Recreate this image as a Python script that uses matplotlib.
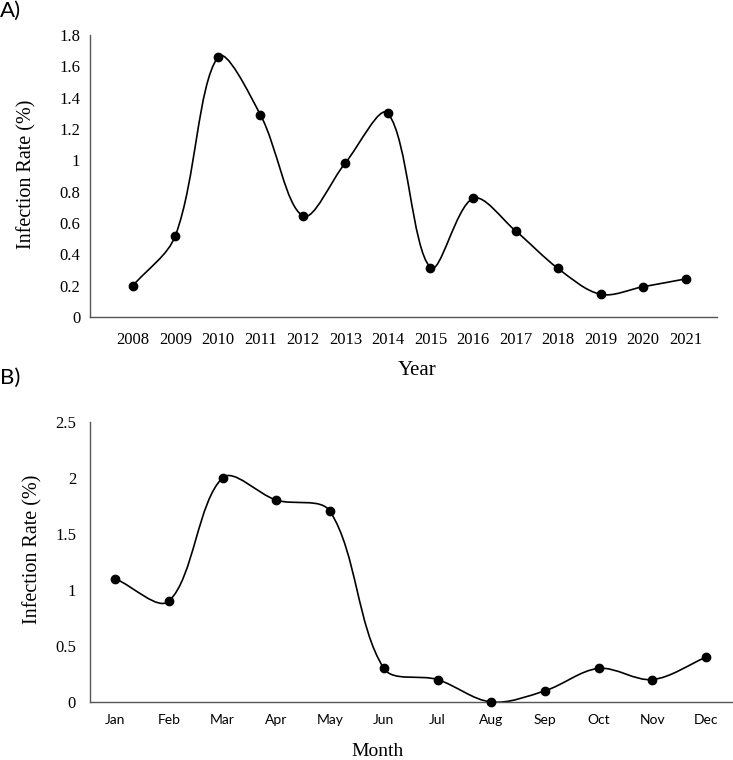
import matplotlib
matplotlib.use("Agg")
import matplotlib.pyplot as plt
from matplotlib.path import Path
from matplotlib.patches import PathPatch
import numpy as np

years = ["2008", "2009", "2010", "2011", "2012", "2013", "2014",
         "2015", "2016", "2017", "2018", "2019", "2020", "2021"]
year_rate = [0.20, 0.52, 1.66, 1.29, 0.645, 0.985, 1.30,
             0.315, 0.757, 0.55, 0.31, 0.145, 0.193, 0.243]
year_ticks = [0, 0.2, 0.4, 0.6, 0.8, 1, 1.2, 1.4, 1.6, 1.8]
year_tick_labels = ["0", "0.2", "0.4", "0.6", "0.8", "1", "1.2", "1.4", "1.6", "1.8"]

months = ["Jan", "Feb", "Mar", "Apr", "May", "Jun",
          "Jul", "Aug", "Sep", "Oct", "Nov", "Dec"]
month_rate = [1.1, 0.9, 2.0, 1.8, 1.7, 0.3, 0.2, 0.0, 0.1, 0.3, 0.2, 0.4]
month_ticks = [0, 0.5, 1, 1.5, 2, 2.5]
month_tick_labels = ["0", "0.5", "1", "1.5", "2", "2.5"]

SERIF = "Liberation Serif"
SANS = "Lato"
AXCOL = "#555555"
W, H = 733, 760


def smooth_path(ax, x, y):
    """Excel-like smoothed line: cubic Bezier with control points scaled by
    the relative segment lengths measured in display space."""
    x = np.asarray(x, float)
    y = np.asarray(y, float)
    pts = np.column_stack([x, y])
    disp = ax.transData.transform(pts)
    n = len(x)
    verts = [tuple(pts[0])]
    codes = [Path.MOVETO]

    def d(a, b):
        return np.hypot(*(disp[a] - disp[b]))

    for i in range(n - 1):
        i0, i1, i2, i3 = max(i - 1, 0), i, i + 1, min(i + 2, n - 1)
        d01, d12, d23 = d(i0, i1), d(i1, i2), d(i2, i3)
        f1 = d12 / (d01 + d12) / 3.0 if (d01 + d12) > 0 else 0
        f2 = d12 / (d12 + d23) / 3.0 if (d12 + d23) > 0 else 0
        c1 = pts[i1] + (pts[i2] - pts[i0]) * f1
        c2 = pts[i2] - (pts[i3] - pts[i1]) * f2
        verts += [tuple(c1), tuple(c2), tuple(pts[i2])]
        codes += [Path.CURVE4] * 3
    return Path(verts, codes)


def style_axes(ax):
    for s in ["top", "right"]:
        ax.spines[s].set_visible(False)
    for s in ["left", "bottom"]:
        ax.spines[s].set_color(AXCOL)
        ax.spines[s].set_linewidth(1.0)
    ax.tick_params(axis="both", length=0)


fig = plt.figure(figsize=(W / 100, H / 100), dpi=100)

# ---- Panel A ----
ax1 = fig.add_axes([90 / W, 1 - 317 / H, (717 - 90) / W, (317 - 35) / H])
xa = np.arange(len(years))
ax1.set_xlim(-1.01, 13.74)
ax1.set_ylim(0, 1.8)
ax1.add_patch(PathPatch(smooth_path(ax1, xa, year_rate), fill=False,
                        edgecolor="black", lw=1.2))
ax1.plot(xa, year_rate, "o", color="black", ms=6, zorder=3)
ax1.set_xticks(xa)
ax1.set_xticklabels(years, fontfamily=SERIF, fontsize=12)
ax1.set_yticks(year_ticks)
ax1.set_yticklabels(year_tick_labels, fontfamily=SERIF, fontsize=12)
ax1.tick_params(axis="x", pad=11)
ax1.tick_params(axis="y", pad=7)
style_axes(ax1)
fig.text(27 / W, 1 - 174 / H, "Infection Rate (%)", fontfamily=SERIF,
         fontsize=14.5, rotation=90, ha="center", va="center")
fig.text(417 / W, 1 - 370 / H, "Year", fontfamily=SERIF, fontsize=15,
         ha="center", va="center")
fig.text(0.0, 1 - 11 / H, "A)", fontfamily=SANS, fontsize=16,
         ha="left", va="center")

# ---- Panel B ----
ax2 = fig.add_axes([90 / W, 1 - 702 / H, (W - 90) / W, (702 - 421.7) / H])
xm = np.arange(len(months))
ax2.set_xlim(-0.47, 11.5)
ax2.set_ylim(0, 2.5)
ax2.add_patch(PathPatch(smooth_path(ax2, xm, month_rate), fill=False,
                        edgecolor="black", lw=1.2))
ax2.plot(xm, month_rate, "o", color="black", ms=6, zorder=3, clip_on=False)
ax2.set_xticks(xm)
ax2.set_xticklabels(months, fontfamily=SANS, fontsize=10)
ax2.set_yticks(month_ticks)
ax2.set_yticklabels(month_tick_labels, fontfamily=SERIF, fontsize=12)
ax2.tick_params(axis="x", pad=9)
ax2.tick_params(axis="y", pad=10)
style_axes(ax2)
fig.text(33 / W, 1 - 549 / H, "Infection Rate (%)", fontfamily=SERIF,
         fontsize=14.5, rotation=90, ha="center", va="center")
fig.text(378 / W, 1 - 752 / H, "Month", fontfamily=SERIF, fontsize=14,
         ha="center", va="center")
fig.text(0.0, 1 - 378 / H, "B)", fontfamily=SANS, fontsize=16,
         ha="left", va="center")

fig.savefig("out.png", dpi=100)
